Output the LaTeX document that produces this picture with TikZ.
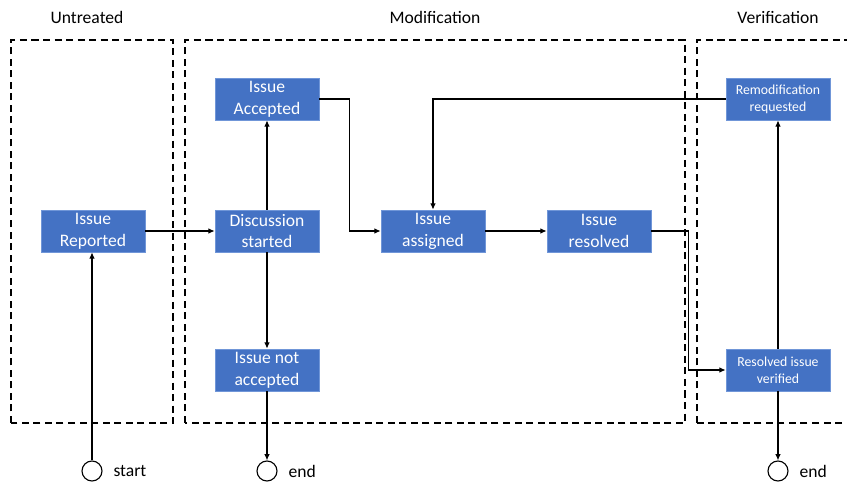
\documentclass[tikz,border=0pt]{standalone}
\usepackage{fontspec}
\setmainfont{Carlito}
\usepackage{xcolor}
\usepackage{tikz}
\usetikzlibrary{positioning,calc,arrows.meta}
\definecolor{boxblue}{HTML}{4472C4}
\definecolor{boxedge}{HTML}{7096D8}
\tikzset{
  issuebox/.style={rectangle, fill=boxblue, draw=boxedge, line width=0.5pt, text=white,
    align=center, minimum width=2.6cm, minimum height=1.05cm, inner sep=1pt,
    font=\fontsize{12.5}{15.5}\selectfont},
  smallbox/.style={issuebox, font=\fontsize{9.8}{12}\selectfont},
  lane/.style={dashed, dash pattern=on 5pt off 3.2pt, line width=1.1pt},
  terminal/.style={circle, draw, line width=0.8pt, minimum size=0.5cm, inner sep=0pt},
  flow/.style={-{Latex[length=4.5pt,width=4pt]}, line width=0.8pt},
  lanetitle/.style={font=\fontsize{12.5}{15}\selectfont}
}
\begin{document}
\begin{tikzpicture}[scale=1]
    \useasboundingbox (0,0) rectangle (21.175,12.15);

    % Lanes
    \draw[lane] (0.275,1.575) rectangle (4.325,11.15);
    \draw[lane] (4.625,1.575) rectangle (17.125,11.15);
    \draw[lane] (17.425,1.575) rectangle (22.2,11.15);
    \node[lanetitle] (untreated) at (2.175,11.725) {Untreated};
    \node[lanetitle] (modification) at (10.875,11.725) {Modification};
    \node[lanetitle] (verification) at (19.45,11.725) {Verification};

    % States
    \node[issuebox] (reported) at (2.325,6.375) {Issue\\Reported};
    \node[issuebox] (discussion) at (6.675,6.375) {Discussion\\started};
    \node[issuebox] (accepted) at (6.675,9.675) {Issue\\Accepted};
    \node[issuebox] (notaccepted) at (6.675,2.9) {Issue not\\accepted};
    \node[issuebox] (assigned) at (10.825,6.375) {Issue\\assigned};
    \node[issuebox] (resolved) at (14.975,6.375) {Issue\\resolved};
    \node[smallbox] (remod) at (19.45,9.675) {Remodification\\requested};
    \node[smallbox] (verified) at (19.45,2.9) {Resolved issue\\verified};

    % Start and ends
    \node[terminal] (start) at (2.3,0.375) {};
    \node[lanetitle, right=0.15cm of start] (startlabel) {start};
    \node[terminal] (endA) at (6.675,0.375) {};
    \node[lanetitle, right=0.15cm of endA] (endAlabel) {end};
    \node[terminal] (endB) at (19.45,0.375) {};
    \node[lanetitle, right=0.15cm of endB] (endBlabel) {end};

    % Flow
    \draw[flow] (start) -- (start |- reported.south);
    \draw[flow] (reported) -- (discussion);
    \draw[flow] (discussion) -- (accepted);
    \draw[flow] (discussion) -- (notaccepted);
    \draw[flow] (notaccepted) -- (endA);
    \draw[flow] (accepted.east) -- ++(0.75,0) |- (assigned.west);
    \draw[flow] (assigned) -- (resolved);
    \draw[flow] (resolved.east) -- ++(0.925,0) |- (verified.west);
    \draw[flow] (verified) -- (remod);
    \draw[flow] (remod.west) -| (assigned.north);
    \draw[flow] (verified) -- (endB);
\end{tikzpicture}
\end{document}
